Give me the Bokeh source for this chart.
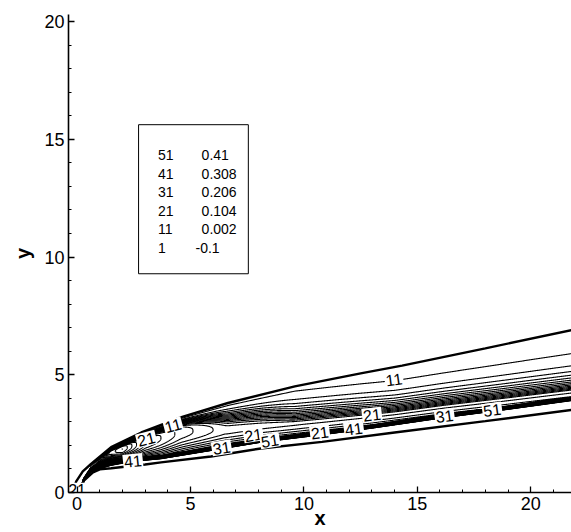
import numpy as np
from bokeh.plotting import figure
from bokeh.models import ColumnDataSource, FixedTicker
from bokeh.core.properties import value
from bokeh.embed import file_html
from bokeh.resources import INLINE

# ---- contour levels (legend) ----
level_min = -0.1
level_max = 0.41
n_levels = 51
legend_ids = [51, 41, 31, 21, 11, 1]

# ---- zone boundaries ----
upper_x = [-0.2, -0.04, 0.25, 0.6, 1.5, 2.83, 4.6, 6.65, 9.6, 12.56, 14.33, 18.0, 22.0]
upper_y = [0.0, 0.47, 0.9, 1.2, 1.93, 2.55, 3.2, 3.8, 4.51, 5.07, 5.39, 6.12, 6.94]
lower_x = [0.1, 0.3, 0.7, 1.0, 1.5, 3.0, 3.7, 5.9, 8.1, 10.8, 14.0, 18.0, 22.0]
lower_y = [0.0, 0.5, 0.85, 0.98, 1.03, 1.19, 1.28, 1.53, 1.87, 2.15, 2.55, 3.03, 3.53]

# ---- steep front (bundle of levels) ----
front_x = [0.1, 0.3, 0.6, 1.0, 1.5, 2.3, 3.7, 5.9, 8.1, 10.8, 13.0, 16.2, 19.0, 22.0]
front_y = [0.0, 0.55, 0.95, 1.14, 1.26, 1.37, 1.5, 1.85, 2.2, 2.52, 2.8, 3.25, 3.6, 4.0]
front_w_x = [0.1, 1.0, 2.0, 3.0, 22.0]
front_w = [0.05, 0.3, 0.2, 0.15, 0.16]

# ---- field above the front ----
peak_x = [0.0, 0.6, 1.0, 1.4, 2.0, 3.0, 4.5, 6.5, 10.0, 22.0]
peak_v = [0.0, 0.004, 0.1, 0.22, 0.24, 0.19, 0.165, 0.142, 0.14, 0.14]
ridge_x = [0.0, 2.0, 4.6, 6.65, 9.6, 14.0, 22.0]
ridge_t = [0.55, 0.55, 0.55, 0.36, 0.26, 0.17, 0.1]
# relative position of contour 11 between front and upper boundary
c11_x = [0.0, 4.6, 6.65, 9.6, 14.0, 22.0]
c11_t = [0.97, 0.965, 0.94, 0.9, 0.75, 0.646]
shape_x = [0.0, 4.6, 6.65, 9.6, 14.0, 22.0]
shape_q = [5.0, 5.0, 2.5, 1.3, 1.1, 1.0]
base_x = [0.0, 5.0, 9.0, 22.0]
base_h = [0.6, 0.6, 0.7, 0.9]
v_free = -0.003
v_core = 0.43

# ---- contour labels ----
lab_text = ["21", "11", "21", "41", "31", "21", "51", "21", "41", "21", "11", "31", "51"]
lab_x = [0.0, 4.23, 3.05, 2.46, 6.37, 7.77, 8.5, 10.7, 12.2, 13.0, 13.97, 16.2, 18.3]
lab_y = [0.12, 2.85, 2.27, 1.34, 1.9, 2.45, 2.2, 2.55, 2.71, 3.3, 4.8, 3.25, 3.51]
lab_deg = [0, 15, 14, 6, 9, 9, 9, 7.5, 7.5, 7, 8, 7.5, 7.5]

levels = [level_min + i * (level_max - level_min) / (n_levels - 1) for i in range(n_levels)]

# ---- build field ----
gx = np.linspace(-0.38, 21.8, 900)
gy = np.linspace(0.0, 7.3, 850)
X, Y = np.meshgrid(gx, gy)
col = lambda xs, vs: np.interp(gx, xs, vs)[None, :]
yu = np.interp(gx, upper_x, upper_y, left=0.0)[None, :]
yl = np.interp(gx, lower_x, lower_y, left=0.0)[None, :]
yf = np.interp(gx, front_x, front_y, left=0.0)[None, :]
w = col(front_w_x, front_w)
P = col(peak_x, peak_v)
tp = col(ridge_x, ridge_t)
t11 = col(c11_x, c11_t)
q = col(shape_x, shape_q)
h0 = col(base_x, base_h)
lev11 = levels[10]
k = np.maximum(np.log(np.maximum(P, 1e-6) / (lev11 - v_free)), 0.1) / (t11 - tp) ** q

top = yf + w / 2
t = (Y - top) / np.maximum(yu - top, 1e-6)
h_up = np.exp(-k * np.maximum(t - tp, 0) ** q)
h_low = h0 + (1 - h0) * (1 - ((tp - t) / tp) ** 2)
h_above = np.where(t >= tp, h_up, h_low)
v_above = v_free + P * h_above
v_front = v_free + P * h0
d = (top - Y) / w
v_below = v_front + (v_core - v_front) * np.clip(d, 0, 1)
Z = np.where(t >= 0, v_above, v_below)
inside = (Y <= yu) & (Y >= yl) & (X >= upper_x[0])
Z = np.ma.masked_array(Z, mask=~inside)

p = figure(width=571, height=532, x_range=(-0.38, 21.8), y_range=(0, 20.3),
           output_backend="svg", toolbar_location=None,
           min_border_left=68, min_border_right=0, min_border_top=14, min_border_bottom=40)
p.outline_line_color = None
p.xgrid.visible = False
p.ygrid.visible = False

p.contour(gx, gy, Z, levels=levels, line_color="black", line_width=1.1, fill_color=None)

p.line(upper_x, upper_y, line_color="black", line_width=2.4)
p.line(lower_x, lower_y, line_color="black", line_width=2.4)

lab_src = ColumnDataSource(dict(x=lab_x, y=lab_y, text=lab_text,
                                angle=[np.deg2rad(a) for a in lab_deg]))
p.text(x="x", y="y", text="text", angle="angle", source=lab_src,
       text_font=value("Liberation Sans"), text_font_size="16px",
       text_align="center", text_baseline="middle", text_color="black",
       background_fill_color="white", padding=1)

# ---- legend box ----
p.quad(left=[2.71], right=[7.55], bottom=[9.29], top=[15.62],
       fill_color="white", line_color="black", line_width=1)
leg_vals = []
for lid in legend_ids:
    v = level_min + (lid - 1) * (level_max - level_min) / (n_levels - 1)
    s = f"{v:.3f}".rstrip("0")
    leg_vals.append(s)
row_y = [14.33 - 0.786 * i for i in range(len(legend_ids))]
p.text(x=[3.57] * len(legend_ids), y=row_y, text=[str(i) for i in legend_ids],
       text_font=value("Liberation Sans"), text_font_size="14px",
       text_align="left", text_baseline="middle", text_color="black")
p.text(x=[5.49 - (0.27 if s.startswith("-") else 0) for s in leg_vals], y=row_y, text=leg_vals,
       text_font=value("Liberation Sans"), text_font_size="14px",
       text_align="left", text_baseline="middle", text_color="black")

# ---- axes ----
for ax in (p.xaxis[0], p.yaxis[0]):
    ax.ticker = FixedTicker(ticks=[0, 5, 10, 15, 20], minor_ticks=list(range(0, 22)))
    ax.axis_line_width = 1.6
    ax.major_tick_in = 6
    ax.major_tick_out = 0
    ax.minor_tick_in = 3
    ax.minor_tick_out = 0
    ax.major_tick_line_width = 1.3
    ax.minor_tick_line_width = 1
    ax.major_label_text_font = "Liberation Sans"
    ax.major_label_text_font_size = "18px"
    ax.major_label_text_color = "black"
    ax.axis_label_text_font = "Liberation Sans"
    ax.axis_label_text_font_size = "20px"
    ax.axis_label_text_font_style = "bold"
    ax.axis_label_text_color = "black"
    ax.major_label_standoff = 4
p.xaxis.axis_label = "x"
p.yaxis.axis_label = "y"
p.xaxis.axis_label_standoff = -6
p.yaxis.axis_label_standoff = 7

open("out.html", "w").write(file_html(p, INLINE))
